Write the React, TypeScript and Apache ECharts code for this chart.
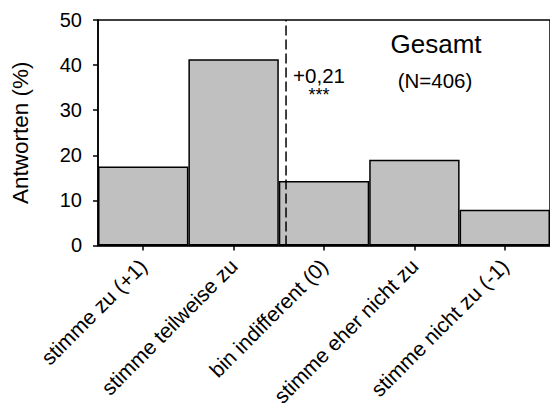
import React, { useEffect, useRef } from "react";
import * as echarts from "echarts";

const categories = [
  "stimme zu (+1)",
  "stimme teilweise zu",
  "bin indifferent (0)",
  "stimme eher nicht zu",
  "stimme nicht zu (-1)",
];
const answers = [17.5, 41.3, 14.3, 19.0, 7.9];
const meanScore = 0.21;
const meanLabel = "+0,21";
const significance = "***";
const title = "Gesamt";
const sampleLabel = "(N=406)";
const yTicks = [0, 10, 20, 30, 40, 50];

const FONT = "'Liberation Sans', Arial, sans-serif";

export default function App() {
  const ref = useRef<HTMLDivElement>(null);
  useEffect(() => {
    if (!ref.current) return;
    const chart = echarts.init(ref.current, null, { renderer: "svg" });
    chart.setOption({
      animation: false,
      backgroundColor: "#ffffff",
      textStyle: { fontFamily: FONT, color: "#000" },
      grid: { left: 98, top: 20, width: 453, height: 227, show: true, borderColor: "#000", borderWidth: 1.5, containLabel: false },
      xAxis: [
        {
          type: "category",
          data: categories,
          boundaryGap: true,
          axisLine: { onZero: false, lineStyle: { color: "#000", width: 1.5 } },
          axisTick: { show: true, alignWithLabel: true, length: 5, lineStyle: { color: "#000", width: 1.5 } },
          axisLabel: { rotate: 45, fontSize: 21, color: "#000", fontFamily: FONT, margin: 17 },
        },
        {
          type: "value",
          min: -1.25,
          max: 1.25,
          inverse: true,
          show: false,
          position: "top",
        },
      ],
      yAxis: {
        type: "value",
        min: yTicks[0],
        max: yTicks[yTicks.length - 1],
        interval: 10,
        name: "Antworten (%)",
        nameLocation: "middle",
        nameGap: 66,
        nameTextStyle: { fontSize: 22.5, color: "#000", fontFamily: FONT },
        axisLine: { show: true, onZero: false, lineStyle: { color: "#000", width: 1.5 } },
        axisTick: { show: true, length: 5, lineStyle: { color: "#000", width: 1.5 } },
        axisLabel: { fontSize: 20, color: "#000", fontFamily: FONT, margin: 16 },
        splitLine: { show: false },
      },
      series: [
        {
          type: "bar",
          data: answers,
          barCategoryGap: "0%",
          itemStyle: { color: "#c0c0c0", borderColor: "#000", borderWidth: 1.5 },
          z: 2,
        },
        {
          type: "line",
          xAxisIndex: 1,
          data: [
            [meanScore, yTicks[0]],
            [meanScore, yTicks[yTicks.length - 1]],
          ],
          symbol: "none",
          lineStyle: { color: "#000", width: 1.5, type: [10, 4] },
          z: 5,
        },
      ],
      graphic: [
        { type: "text", x: 436, y: 44, style: { text: title, fontSize: 26, fontFamily: FONT, fill: "#000", textAlign: "center", textVerticalAlign: "middle" } },
        { type: "text", x: 435, y: 80, style: { text: sampleLabel, fontSize: 20.5, fontFamily: FONT, fill: "#000", textAlign: "center", textVerticalAlign: "middle" } },
        { type: "text", x: 319, y: 75, style: { text: meanLabel, fontSize: 20.5, fontFamily: FONT, fill: "#000", textAlign: "center", textVerticalAlign: "middle" } },
        { type: "text", x: 319, y: 95, style: { text: significance, fontSize: 18, fontFamily: FONT, fill: "#000", textAlign: "center", textVerticalAlign: "middle" } },
      ],
    });
    return () => chart.dispose();
  }, []);
  return <div ref={ref} style={{ position: "fixed", left: 0, top: 0, width: 550, height: 409 }} />;
}
